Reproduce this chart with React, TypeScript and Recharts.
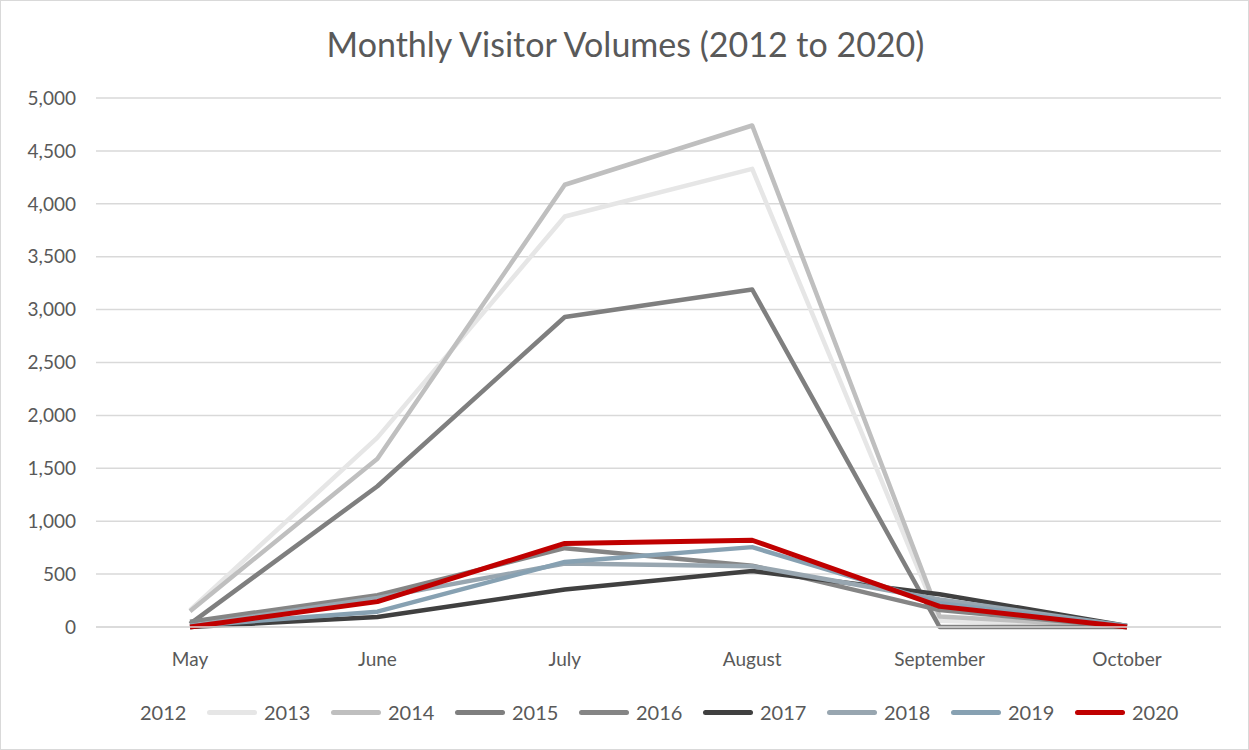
import React from 'react';
import { LineChart, Line, XAxis, YAxis, CartesianGrid } from 'recharts';

const months = ['May', 'June', 'July', 'August', 'September', 'October'];

// visitors per month (2012 has no visible line)
const v2012: (number | null)[] = [null, null, null, null, null, null];
const v2013 = [160, 1790, 3880, 4330, 60, 0];
const v2014 = [150, 1590, 4180, 4740, 100, 0];
const v2015 = [30, 1330, 2930, 3190, 0, 0];
const v2016 = [50, 300, 745, 580, 160, 0];
const v2017 = [0, 95, 355, 530, 310, 10];
const v2018 = [10, 275, 600, 575, 260, 10];
const v2019 = [10, 145, 615, 755, 225, 10];
const v2020 = [0, 240, 790, 820, 195, 0];

const years = ['2012', '2013', '2014', '2015', '2016', '2017', '2018', '2019', '2020'];
const values = [v2012, v2013, v2014, v2015, v2016, v2017, v2018, v2019, v2020];
const colors = ['transparent', '#e6e6e6', '#bfbfbf', '#7f7f7f', '#858585', '#404040', '#98a6b0', '#87a1b2', '#c00000'];

const yTicks = [0, 500, 1000, 1500, 2000, 2500, 3000, 3500, 4000, 4500, 5000];

const data = months.map((m, i) => {
  const row: Record<string, string | number | null> = { month: m };
  years.forEach((y, k) => {
    row[y] = values[k][i];
  });
  return row;
});

const FONT = 'Lato, "Open Sans", sans-serif';
const TEXT = '#595959';

export default function App() {
  return (
    <div
      style={{
        position: 'absolute',
        left: 0,
        top: 0,
        width: 1249,
        height: 750,
        background: '#fff',
        boxSizing: 'border-box',
        border: '1px solid #d9d9d9',
        fontFamily: FONT,
      }}
    >
      <div
        style={{
          position: 'absolute',
          top: 22,
          left: 0,
          width: 1249,
          textAlign: 'center',
          fontSize: 34,
          color: TEXT,
        }}
      >
        Monthly Visitor Volumes (2012 to 2020)
      </div>
      <div style={{ position: 'absolute', left: -1, top: -1 }}>
        <LineChart width={1249} height={750} data={data} margin={{ top: 98, right: 28, left: 10, bottom: 73 }}>
          <CartesianGrid vertical={false} stroke="#d9d9d9" strokeWidth={1.5} />
          <XAxis
            dataKey="month"
            padding={{ left: 94, right: 94 }}
            axisLine={{ stroke: '#d9d9d9', strokeWidth: 1.5 }}
            tickLine={false}
            tick={{ fill: TEXT, fontSize: 19, fontFamily: FONT }}
            tickMargin={20}
            height={50}
          />
          <YAxis
            width={86}
            domain={[0, 5000]}
            ticks={yTicks}
            axisLine={false}
            tickLine={false}
            tick={{ fill: TEXT, fontSize: 19, fontFamily: FONT }}
            tickMargin={14}
            tickFormatter={(v: number) => v.toLocaleString('en-US')}
          />
          {years.map((y, k) =>
            k === 0 ? null : (
              <Line
                key={y}
                dataKey={y}
                stroke={colors[k]}
                strokeWidth={k === 8 ? 5 : 4.5}
                dot={false}
                strokeLinejoin="round"
                isAnimationActive={false}
              />
            )
          )}
        </LineChart>
      </div>
      <div
        style={{
          position: 'absolute',
          top: 697,
          left: 82,
          display: 'flex',
          fontSize: 20,
          color: TEXT,
          lineHeight: '28px',
        }}
      >
        {years.map((y, k) => (
          <div key={y} style={{ display: 'flex', alignItems: 'center', width: 124 }}>
            <div
              style={{
                width: 50,
                height: 5,
                borderRadius: 3,
                background: colors[k],
                marginRight: 7,
              }}
            />
            <span>{y}</span>
          </div>
        ))}
      </div>
    </div>
  );
}
